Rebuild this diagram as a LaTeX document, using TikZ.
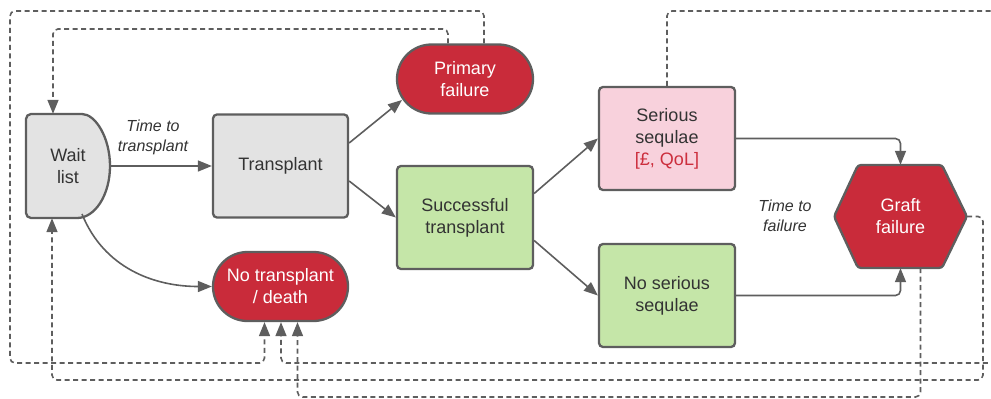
\documentclass[tikz,border=0pt]{standalone}
\usepackage{fontspec}
\setmainfont{Liberation Sans}
\usetikzlibrary{arrows.meta,shapes.misc}
\definecolor{bordc}{HTML}{5E5E5E}
\definecolor{grayf}{HTML}{E3E3E3}
\definecolor{redf}{HTML}{C92B3A}
\definecolor{greenf}{HTML}{C5E6A8}
\definecolor{pinkf}{HTML}{F8D1DC}
\definecolor{txt}{HTML}{333333}
\definecolor{redtxt}{HTML}{CC2E3D}
\begin{document}
\begin{tikzpicture}[x=1pt,y=-1pt,
  boxbase/.style={draw=bordc, line width=2.3pt, align=center, text=txt,
    font=\fontsize{18}{22}\selectfont, inner sep=0pt},
  box/.style={boxbase, rounded corners=4pt, minimum width=136pt, minimum height=103pt},
  stad/.style={boxbase, rounded rectangle, fill=redf, text=white, minimum width=136pt, minimum height=69pt},
  lbl/.style={align=center, text=txt, font=\fontsize{16}{20}\selectfont\itshape, inner sep=0pt},
  plain/.style={align=center, text=txt, font=\fontsize{18}{22}\selectfont, inner sep=0pt},
  arr/.style={draw=bordc, line width=1.6pt, -{Triangle[length=14pt,width=11pt]}},
  darr/.style={arr, dash pattern=on 5pt off 3.5pt, rounded corners=5pt}
]
\useasboundingbox (0,0) rectangle (991,399);
\clip (0,0) rectangle (991,399);

% Wait list D-shape
\draw[draw=bordc, line width=2.3pt, fill=grayf]
  (77,114) arc[start angle=90, end angle=-90, x radius=33pt, y radius=52pt]
  [rounded corners=5pt] -- (26,218) -- (26,114) -- cycle;
\node[plain, minimum width=84pt, minimum height=104pt] (wl) at (68,166) {Wait\\list};

% Graft failure hexagon
\draw[draw=bordc, line width=2.3pt, fill=redf, rounded corners=3pt]
  (834,216.5) -- (858,165) -- (942,165) -- (967,216.5) -- (942,268) -- (858,268) -- cycle;
\node[plain, text=white, minimum width=133pt, minimum height=103pt] (gf) at (900.5,216.5) {Graft\\failure};

\node[box, fill=grayf, minimum width=135pt] (tp) at (280.5,166) {Transplant};
\node[stad] (pf) at (465,79) {Primary\\failure};
\node[stad, minimum width=135pt] (nt) at (280.5,286.5) {No transplant\\/ death};
\node[box, fill=greenf] (st) at (465,217.5) {Successful\\transplant};
\node[box, fill=pinkf] (sq) at (667,138.5) {Serious\\sequlae\\\textcolor{redtxt}{[£, QoL]}};
\node[box, fill=greenf] (ns) at (667,295.5) {No serious\\sequlae};

\node[lbl] (l1) at (153,137) {Time to\\transplant};
\node[lbl] (l2) at (785,216) {Time to\\failure};

\coordinate (wlc) at (82,214);

% solid connectors
\draw[arr] (wl.east) -- (tp.west);
\draw[arr] ([yshift=23pt]tp.east) -- ([xshift=-63pt,yshift=-21pt]pf.center);
\draw[arr] ([yshift=-15pt]tp.east) -- (st.west);
\draw[arr] ([yshift=24pt]st.east) -- (sq.west);
\draw[arr] ([yshift=-23pt]st.east) -- (ns.west);
\draw[arr, rounded corners=5pt] (sq.east) -| (gf.north);
\draw[arr, rounded corners=5pt] (ns.east) -| (gf.south);
\draw[arr] (wlc) to[out=-68, in=180] (nt.west);

% dashed connectors
\draw[darr] ([xshift=19pt]pf.north) |- (10,11) -- (10,363) -| ([xshift=-16pt]nt.south);
\draw[darr] ([xshift=-17pt]pf.north) |- (53,29) -- ([xshift=-15pt]wl.north);
\draw[darr] (sq.north) |- (1000,11) -- (1000,363) -| ([xshift=0.5pt]nt.south);
\draw[darr] (gf.east) -- (983,216.5) -- (983,380) -| ([xshift=-16pt]wl.south);
\draw[darr] ([xshift=20pt]gf.south) -- (920.5,397) -| ([xshift=17pt]nt.south);
\end{tikzpicture}
\end{document}
